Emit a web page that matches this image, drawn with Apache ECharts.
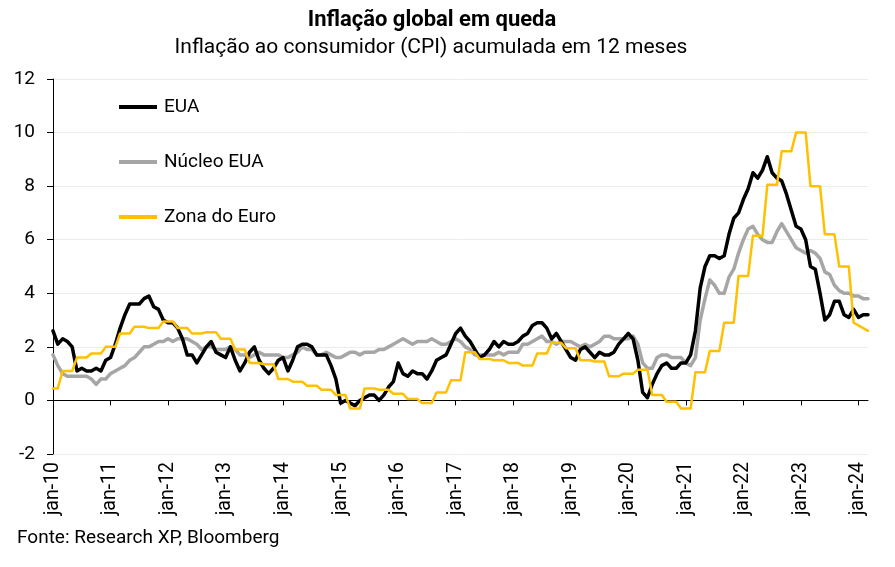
<!DOCTYPE html>
<html>
<head>
<meta charset="utf-8">
<script src="https://cdn.jsdelivr.net/npm/echarts@6/dist/echarts.min.js"></script>
<style>
  html, body { margin: 0; padding: 0; background: #fff; }
  #chart { width: 895px; height: 567px; }
</style>
</head>
<body>
<div id="chart"></div>
<script>
// ---- Data ----
const monthNames = ['jan','fev','mar','abr','mai','jun','jul','ago','set','out','nov','dez'];
const yearLabels = ['10','11','12','13','14','15','16','17','18','19','20','21','22','23','24'];
const nPoints = 171; // jan-10 .. mar-24

const eua = [
  2.6, 2.1, 2.3, 2.2, 2.0, 1.1, 1.2, 1.1, 1.1, 1.2, 1.1, 1.5,
  1.6, 2.1, 2.7, 3.2, 3.6, 3.6, 3.6, 3.8, 3.9, 3.5, 3.4, 3.0,
  2.9, 2.9, 2.7, 2.3, 1.7, 1.7, 1.4, 1.7, 2.0, 2.2, 1.8, 1.7,
  1.6, 2.0, 1.5, 1.1, 1.4, 1.8, 2.0, 1.5, 1.2, 1.0, 1.2, 1.5,
  1.6, 1.1, 1.5, 2.0, 2.1, 2.1, 2.0, 1.7, 1.7, 1.7, 1.3, 0.8,
  -0.1, 0.0, -0.1, -0.2, 0.0, 0.1, 0.2, 0.2, 0.0, 0.2, 0.5, 0.7,
  1.4, 1.0, 0.9, 1.1, 1.0, 1.0, 0.8, 1.1, 1.5, 1.6, 1.7, 2.1,
  2.5, 2.7, 2.4, 2.2, 1.9, 1.6, 1.7, 1.9, 2.2, 2.0, 2.2, 2.1,
  2.1, 2.2, 2.4, 2.5, 2.8, 2.9, 2.9, 2.7, 2.3, 2.5, 2.2, 1.9,
  1.6, 1.5, 1.9, 2.0, 1.8, 1.6, 1.8, 1.7, 1.7, 1.8, 2.1, 2.3,
  2.5, 2.3, 1.5, 0.3, 0.1, 0.6, 1.0, 1.3, 1.4, 1.2, 1.2, 1.4,
  1.4, 1.7, 2.6, 4.2, 5.0, 5.4, 5.4, 5.3, 5.4, 6.2, 6.8, 7.0,
  7.5, 7.9, 8.5, 8.3, 8.6, 9.1, 8.5, 8.3, 8.2, 7.7, 7.1, 6.5,
  6.4, 6.0, 5.0, 4.9, 4.0, 3.0, 3.2, 3.7, 3.7, 3.2, 3.1, 3.4,
  3.1, 3.2, 3.2
];

const nucleoEua = [
  1.7, 1.3, 1.0, 0.9, 0.9, 0.9, 0.9, 0.9, 0.8, 0.6, 0.8, 0.8,
  1.0, 1.1, 1.2, 1.3, 1.5, 1.6, 1.8, 2.0, 2.0, 2.1, 2.2, 2.2,
  2.3, 2.2, 2.3, 2.3, 2.3, 2.2, 2.1, 1.9, 2.0, 2.0, 1.9, 1.9,
  1.9, 2.0, 1.9, 1.7, 1.7, 1.6, 1.7, 1.8, 1.7, 1.7, 1.7, 1.7,
  1.6, 1.6, 1.7, 1.8, 2.0, 1.9, 1.9, 1.7, 1.7, 1.8, 1.7, 1.6,
  1.6, 1.7, 1.8, 1.8, 1.7, 1.8, 1.8, 1.8, 1.9, 1.9, 2.0, 2.1,
  2.2, 2.3, 2.2, 2.1, 2.2, 2.2, 2.2, 2.3, 2.2, 2.1, 2.1, 2.2,
  2.3, 2.2, 2.0, 1.9, 1.7, 1.7, 1.7, 1.7, 1.7, 1.8, 1.7, 1.8,
  1.8, 1.8, 2.1, 2.1, 2.2, 2.3, 2.4, 2.2, 2.2, 2.1, 2.2, 2.2,
  2.2, 2.1, 2.0, 2.1, 2.0, 2.1, 2.2, 2.4, 2.4, 2.3, 2.3, 2.3,
  2.3, 2.4, 2.1, 1.4, 1.2, 1.2, 1.6, 1.7, 1.7, 1.6, 1.6, 1.6,
  1.4, 1.3, 1.6, 3.0, 3.8, 4.5, 4.3, 4.0, 4.0, 4.6, 4.9, 5.5,
  6.0, 6.4, 6.5, 6.2, 6.0, 5.9, 5.9, 6.3, 6.6, 6.3, 6.0, 5.7,
  5.6, 5.5, 5.6, 5.5, 5.3, 4.8, 4.7, 4.3, 4.1, 4.0, 4.0, 3.9,
  3.9, 3.8, 3.8
];

const zonaEuro = [
  0.45, 0.45, 1.1, 1.1, 1.1, 1.6, 1.6, 1.6, 1.75, 1.75, 1.75, 2.0,
  2.0, 2.0, 2.5, 2.5, 2.5, 2.75, 2.75, 2.75, 2.7, 2.7, 2.7, 2.95,
  2.95, 2.95, 2.7, 2.7, 2.7, 2.5, 2.5, 2.5, 2.55, 2.55, 2.55, 2.3,
  2.3, 2.3, 1.9, 1.9, 1.9, 1.4, 1.4, 1.4, 1.35, 1.35, 1.35, 0.8,
  0.8, 0.8, 0.7, 0.7, 0.7, 0.55, 0.55, 0.55, 0.4, 0.4, 0.4, 0.2,
  0.2, 0.2, -0.3, -0.3, -0.3, 0.45, 0.45, 0.45, 0.4, 0.4, 0.4, 0.25,
  0.25, 0.25, 0.05, 0.05, 0.05, -0.1, -0.1, -0.1, 0.3, 0.3, 0.3, 0.75,
  0.75, 0.75, 1.8, 1.8, 1.8, 1.55, 1.55, 1.55, 1.5, 1.5, 1.5, 1.4,
  1.4, 1.4, 1.3, 1.3, 1.3, 1.75, 1.75, 1.75, 2.15, 2.15, 2.15, 1.95,
  1.95, 1.95, 1.5, 1.5, 1.5, 1.45, 1.45, 1.45, 0.9, 0.9, 0.9, 1.0,
  1.0, 1.0, 1.15, 1.15, 1.15, 0.2, 0.2, 0.2, -0.05, -0.05, -0.05, -0.3,
  -0.3, -0.3, 1.05, 1.05, 1.05, 1.85, 1.85, 1.85, 2.9, 2.9, 2.9, 4.65,
  4.65, 4.65, 6.15, 6.15, 6.15, 8.05, 8.05, 8.05, 9.3, 9.3, 9.3, 10.0,
  10.0, 10.0, 8.0, 8.0, 8.0, 6.2, 6.2, 6.2, 5.0, 5.0, 5.0, 2.9,
  2.8, 2.7, 2.6
];

const seriesNames = ['EUA', 'Núcleo EUA', 'Zona do Euro'];
const titleText = 'Inflação global em queda';
const subtitleText = 'Inflação ao consumidor (CPI) acumulada em 12 meses';
const sourceText = 'Fonte: Research XP, Bloomberg';

// ---- Categories (month labels) ----
const categories = [];
for (const y of yearLabels) {
  for (const m of monthNames) {
    if (categories.length < nPoints) categories.push(m + '-' + y);
  }
}

const FONT = 'Roboto, "Noto Sans", sans-serif';
const chart = echarts.init(document.getElementById('chart'), null, { renderer: 'canvas' });

chart.setOption({
  backgroundColor: '#ffffff',
  animation: false,
  textStyle: { fontFamily: FONT },
  grid: { left: 53, right: 27, top: 79, bottom: 113, containLabel: false },
  legend: {
    orient: 'vertical',
    left: 114,
    top: 92,
    icon: 'rect',
    itemWidth: 38,
    itemHeight: 4,
    itemGap: 35,
    textStyle: { fontSize: 19, lineHeight: 20, color: '#000', fontFamily: FONT, padding: [0, 0, 0, 2] },
    data: seriesNames
  },
  xAxis: [
    {
      type: 'category',
      data: categories,
      boundaryGap: false,
      axisLine: { onZero: true, lineStyle: { color: '#000', width: 1 } },
      axisTick: { show: true, interval: 11, length: 5, lineStyle: { color: '#000' } },
      axisLabel: { show: false },
      splitLine: { show: false }
    },
    {
      type: 'category',
      data: categories,
      boundaryGap: false,
      position: 'bottom',
      axisLine: { show: false, onZero: false },
      axisTick: { show: false },
      axisLabel: {
        show: true, interval: 11, rotate: 90, margin: 8,
        fontSize: 19.5, color: '#000', fontFamily: FONT
      },
      splitLine: { show: false }
    }
  ],
  yAxis: {
    type: 'value',
    min: -2,
    max: 12,
    interval: 2,
    axisLine: { show: true, lineStyle: { color: '#000', width: 1 } },
    axisTick: { show: true, length: 6, lineStyle: { color: '#000' } },
    axisLabel: { fontSize: 19, color: '#000', margin: 18, fontFamily: FONT },
    splitLine: { show: true, lineStyle: { color: '#ececec', width: 1 } }
  },
  series: [
    {
      name: seriesNames[0], type: 'line', data: eua, xAxisIndex: 0,
      symbol: 'none', showSymbol: false, z: 3,
      lineStyle: { color: '#000000', width: 3.5, cap: 'round', join: 'round' },
      itemStyle: { color: '#000000' }
    },
    {
      name: seriesNames[1], type: 'line', data: nucleoEua, xAxisIndex: 0,
      symbol: 'none', showSymbol: false, z: 2,
      lineStyle: { color: '#a6a6a6', width: 3.5, cap: 'round', join: 'round' },
      itemStyle: { color: '#a6a6a6' }
    },
    {
      name: seriesNames[2], type: 'line', data: zonaEuro, xAxisIndex: 0,
      symbol: 'none', showSymbol: false, z: 4,
      lineStyle: { color: '#ffc000', width: 2.5, cap: 'round', join: 'round' },
      itemStyle: { color: '#ffc000' }
    }
  ],
  graphic: [
    {
      type: 'text', x: 432, y: 9,
      style: { text: titleText, font: 'bold 22px ' + FONT, fill: '#000', textAlign: 'center', textVerticalAlign: 'top' }
    },
    {
      type: 'text', x: 431, y: 37,
      style: { text: subtitleText, font: '21px ' + FONT, fill: '#000', textAlign: 'center', textVerticalAlign: 'top' }
    },
    {
      type: 'text', x: 17, y: 529,
      style: { text: sourceText, font: '19px ' + FONT, fill: '#000', textAlign: 'left', textVerticalAlign: 'top' }
    }
  ]
});
</script>
</body>
</html>
